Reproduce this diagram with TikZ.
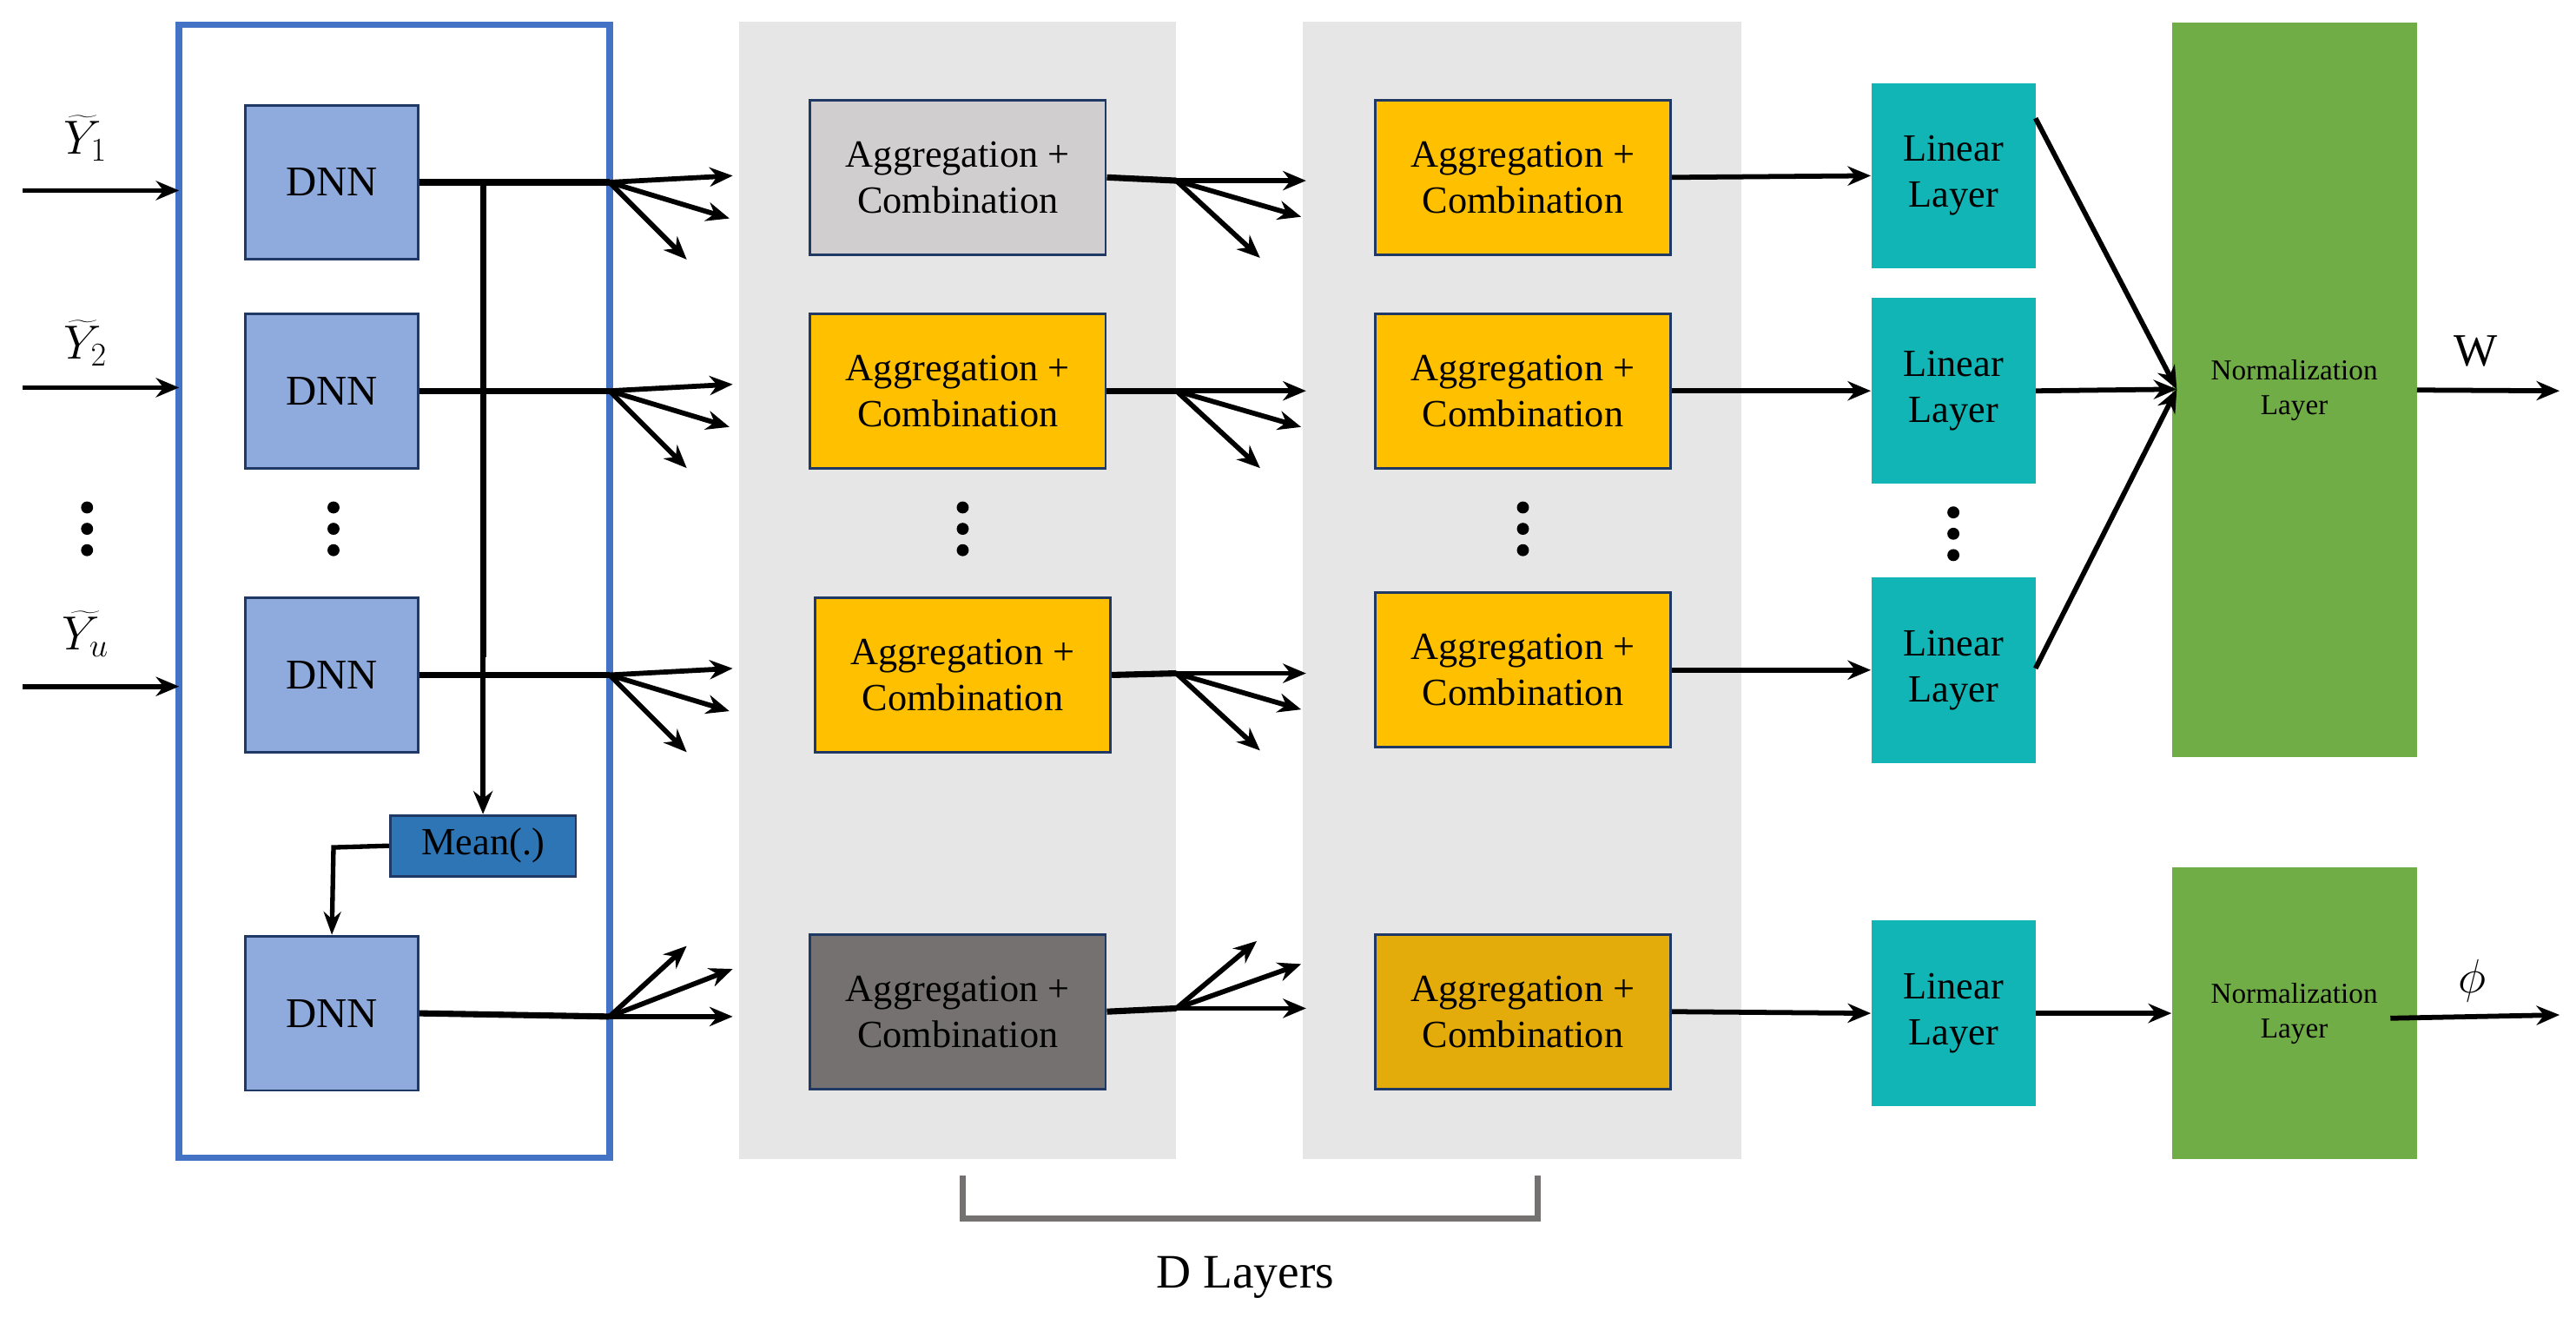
\documentclass[tikz,border=0pt]{standalone}
\usepackage{fontspec}
\setmainfont{Liberation Serif}
\usetikzlibrary{arrows.meta}
\definecolor{dnnc}{HTML}{8FAADC}
\definecolor{navy}{HTML}{1F3864}
\definecolor{meanc}{HTML}{2E75B6}
\definecolor{frame}{HTML}{4472C4}
\definecolor{bgg}{HTML}{E6E6E6}
\definecolor{gold}{HTML}{FFC000}
\definecolor{dgold}{HTML}{E3AC0B}
\definecolor{lgray}{HTML}{D0CECE}
\definecolor{dgray}{HTML}{767171}
\definecolor{teal}{HTML}{12B5B5}
\definecolor{green}{HTML}{70AD47}
\newcommand{\vdotsat}[2]{\foreach \dy in {-13,0,13}{\fill (#1,#2+\dy) circle (0.11cm);}}
\begin{document}
\begin{tikzpicture}[x=0.03cm,y=-0.03cm,
  box/.style={draw=navy,line width=1.3pt,inner sep=0pt,align=center},
  dnn/.style={box,fill=dnnc,minimum width=3.15cm,minimum height=2.82cm,font=\fontsize{22}{26}\selectfont},
  agg/.style={box,minimum width=5.4cm,minimum height=2.82cm,font=\fontsize{20}{24}\selectfont},
  lin/.style={fill=teal,inner sep=0pt,minimum width=3.0cm,minimum height=3.39cm,align=center,font=\fontsize{20}{24}\selectfont},
  norm/.style={fill=green,inner sep=0pt,minimum width=4.47cm,align=center,font=\fontsize{15}{18}\selectfont},
  ar/.style={line width=2.6pt,-{Stealth[length=12pt,width=10pt]}},
  ln/.style={line width=3.2pt}]
\useasboundingbox (0,0) rectangle (1568,806);
% backgrounds
\fill[bgg] (450,13) rectangle (716,706);
\fill[bgg] (793,13) rectangle (1060,706);
\draw[frame,line width=3.4pt] (109,15) rectangle (371,705);
% DNN
\node[dnn] (d1) at (202,111) {DNN};
\node[dnn] (d2) at (202,238) {DNN};
\node[dnn] (d3) at (202,411) {DNN};
\node[dnn] (d4) at (202,617) {DNN};
\node[box,fill=meanc,minimum width=3.39cm,minimum height=1.11cm,font=\fontsize{20}{24}\selectfont] (mean) at (294,515) {Mean(.)};
% inputs
\foreach \y/\n in {116/i1,236/i2,418/i3}{
  \coordinate (\n) at (14,\y);
  \coordinate (\n e) at (109,\y);
  \draw[ar] (\n) -- (\n e);
}
\node at (52,84) {\fontsize{26}{28}\selectfont$\widetilde{Y}_1$};
\node at (52,209) {\fontsize{26}{28}\selectfont$\widetilde{Y}_2$};
\node at (52,386) {\fontsize{26}{28}\selectfont$\widetilde{Y_u}$};
\vdotsat{53}{322}
\vdotsat{203}{322}
\vdotsat{586}{322}
\vdotsat{927}{322}
\vdotsat{1189}{325}
% bus and mean
\draw[ln] (294,111) -- (294,400);
\draw[ar] (294,400) -- (mean.north);
\coordinate (mc) at (203,516);
\draw[line width=2.4pt,-{Stealth[length=12pt,width=9pt]}] (mean.west) -- (mc) -- (d4.north);
% DNN outputs and fans
\foreach \n/\y in {d1/111,d2/238,d3/411}{
  \coordinate (\n f) at (371,\y);
  \draw[ln] (\n.east) -- (\n f);
  \coordinate (\n a) at (446,\y-4); \coordinate (\n b) at (444,\y+22); \coordinate (\n c) at (418,\y+47);
  \draw[ar] (\n f) -- (\n a); \draw[ar] (\n f) -- (\n b); \draw[ar] (\n f) -- (\n c);
}
\coordinate (d4f) at (371,619);
\draw[ln] (d4.east) -- (d4f);
\coordinate (d4a) at (446,619); \coordinate (d4b) at (446,590); \coordinate (d4c) at (418,576);
\draw[ar] (d4f) -- (d4a); \draw[ar] (d4f) -- (d4b); \draw[ar] (d4f) -- (d4c);
% Aggregation col 1
\node[agg,fill=lgray] (a1) at (583,108) {Aggregation +\\Combination};
\node[agg,fill=gold] (a2) at (583,238) {Aggregation +\\Combination};
\node[agg,fill=gold] (a3) at (586,411) {Aggregation +\\Combination};
\node[agg,fill=dgray] (a4) at (583,616) {Aggregation +\\Combination};
% Aggregation col 2
\node[agg,fill=gold] (b1) at (927,108) {Aggregation +\\Combination};
\node[agg,fill=gold] (b2) at (927,238) {Aggregation +\\Combination};
\node[agg,fill=gold] (b3) at (927,408) {Aggregation +\\Combination};
\node[agg,fill=dgold] (b4) at (927,616) {Aggregation +\\Combination};
% fans between columns
\foreach \n/\y in {a1/110,a2/238,a3/410}{
  \coordinate (\n f) at (716,\y);
  \draw[ln] (\n.east) -- (\n f);
  \coordinate (\n a) at (795,\y); \coordinate (\n b) at (792,\y+22); \coordinate (\n c) at (767,\y+47);
  \draw[ar] (\n f) -- (\n a); \draw[ar] (\n f) -- (\n b); \draw[ar] (\n f) -- (\n c);
}
\coordinate (a4f) at (716,614);
\draw[ln] (a4.east) -- (a4f);
\coordinate (a4a) at (795,614); \coordinate (a4b) at (792,587); \coordinate (a4c) at (765,573);
\draw[ar] (a4f) -- (a4a); \draw[ar] (a4f) -- (a4b); \draw[ar] (a4f) -- (a4c);
% Linear layers
\node[lin] (l1) at (1189,107) {Linear\\Layer};
\node[lin] (l2) at (1189,238) {Linear\\Layer};
\node[lin] (l3) at (1189,408) {Linear\\Layer};
\node[lin] (l4) at (1189,617) {Linear\\Layer};
\foreach \i in {1,2,3,4}{ \draw[ar] (b\i.east) -- (l\i.west); }
% Normalization
\node[norm,minimum height=13.41cm] (n1) at (1396.5,237.5) {Normalization\\Layer};
\node[norm,minimum height=5.34cm] (n2) at (1396.5,617) {Normalization\\Layer};
\coordinate (n1in) at (1325,237);
\draw[ar] (1239,72) -- (n1in);
\draw[ar] (l2.east) -- (n1in);
\draw[ar] (1239,407) -- (n1in);
\draw[ar] (l4.east) -- (n2.west);
% outputs
\coordinate (wo) at (1558,238);
\coordinate (po) at (1558,618);
\draw[ar] (n1.east) -- (wo);
\draw[ar] (1455,620) -- (po);
\node[font=\fontsize{24}{26}\selectfont] at (1507,214) {W};
\node at (1505,597) {\fontsize{26}{28}\selectfont$\phi$};
% bracket
\draw[dgray,line width=3.4pt] (586,716) -- (586,742) -- (936,742) -- (936,716);
\node[font=\fontsize{25}{28}\selectfont] at (758,778) {D Layers};
\end{tikzpicture}
\end{document}
